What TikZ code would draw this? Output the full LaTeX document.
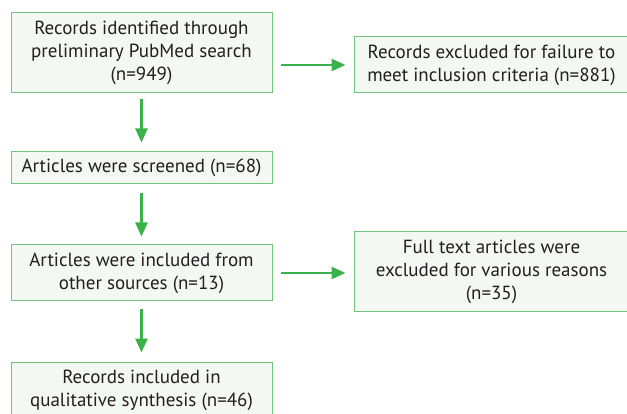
\documentclass[tikz,border=0pt]{standalone}
\usepackage{fontspec}
\setmainfont{PT Sans}
\usetikzlibrary{arrows.meta}
\definecolor{boxfill}{HTML}{F4F8F2}
\definecolor{boxline}{HTML}{72C47A}
\definecolor{arrowc}{HTML}{3BB14A}
\definecolor{txt}{HTML}{231F20}
\tikzset{
  box/.style={draw=boxline, line width=1pt, fill=boxfill, text=txt, align=center,
    font=\fontsize{19}{23}\selectfont, inner sep=0pt},
  arr/.style={draw=arrowc, line width=2.5pt, -{Triangle[length=14pt,width=12pt]}}
}
\begin{document}
\begin{tikzpicture}[x=1pt,y=-1pt]
\useasboundingbox (0,0) rectangle (627,414);
\node[box, minimum width=261pt, minimum height=80pt] (b1) at (141.5,53) {Records identified through\\preliminary PubMed search\\(n=949)};
\node[box, minimum width=275pt, minimum height=56pt] (b2) at (491.5,65) {Records excluded for failure to\\meet inclusion criteria (n=881)};
\node[box, minimum width=261pt, minimum height=32pt] (b3) at (141.5,168) {Articles were screened (n=68)};
\node[box, minimum width=261pt, minimum height=56pt] (b4) at (141.5,273) {Articles were included from\\other sources (n=13)};
\node[box, minimum width=275pt, minimum height=80pt] (b5) at (491.5,272) {Full text articles were\\excluded for various reasons\\(n=35)};
\node[box, minimum width=261pt, minimum height=56pt] (b6) at (141.5,390) {Records included in\\qualitative synthesis (n=46)};
\draw[arr] ([xshift=8pt]b1.east |- b2.west) -- ([xshift=-8pt]b2.west);
\draw[arr] ([yshift=-6pt]b1.south) -- ([yshift=9pt]b3.north);
\draw[arr] ([yshift=-9pt]b3.south) -- ([yshift=8pt]b4.north);
\draw[arr] ([xshift=8pt]b4.east) -- ([xshift=-8pt]b4.east -| b5.west);
\draw[arr] ([yshift=-8pt]b4.south) -- ([yshift=9pt]b6.north);
\end{tikzpicture}
\end{document}
